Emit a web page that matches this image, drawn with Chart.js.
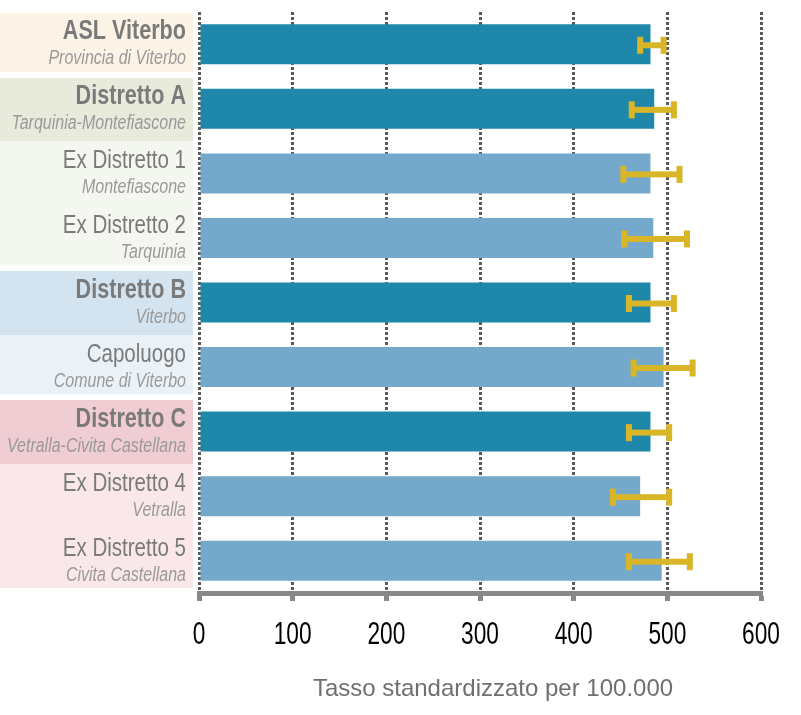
<!DOCTYPE html>
<html>
<head>
<meta charset="utf-8">
<script src="https://cdn.jsdelivr.net/npm/chart.js@4"></script>
<style>
  html, body { margin: 0; padding: 0; background: #fff; }
  #wrap { width: 801px; height: 715px; }
</style>
</head>
<body>
<div id="wrap"><canvas id="chart" width="801" height="715"></canvas></div>
<script>
// rows, top to bottom
const labels = ['ASL Viterbo', 'Distretto A', 'Ex Distretto 1', 'Ex Distretto 2', 'Distretto B',
  'Capoluogo', 'Distretto C', 'Ex Distretto 4', 'Ex Distretto 5'];
const subLabels = ['Provincia di Viterbo', 'Tarquinia-Montefiascone', 'Montefiascone', 'Tarquinia',
  'Viterbo', 'Comune di Viterbo', 'Vetralla-Civita Castellana', 'Vetralla', 'Civita Castellana'];
const groups = ['ASL', 'A', 'A', 'A', 'B', 'B', 'C', 'C', 'C'];
const isHeader = [true, true, false, false, true, false, true, false, false];

const rates = [482, 486, 482, 485, 482, 496, 482, 471, 494];
const lower = [471, 462, 453, 454, 459, 464, 459, 442, 459];
const upper = [496, 507, 513, 521, 507, 527, 502, 502, 524];

const xTicks = [0, 100, 200, 300, 400, 500, 600];
const xTitle = 'Tasso standardizzato per 100.000';

const DARK = '#1f87aa', LIGHT = '#74a9cc', ERR = '#d8b628';
const bands = {
  ASL: ['#fbf3e5', '#fbf3e5'],
  A: ['#e8ebdc', '#f4f6f0'],
  B: ['#d3e3ef', '#ebf2f7'],
  C: ['#f0ccd3', '#f9e7ea']
};
const SANS = '"Liberation Sans", Arial, sans-serif';

// text squeezed horizontally to look like a condensed face
function squeezed(ctx, text, x, y, sx) {
  ctx.save();
  ctx.translate(x, y);
  ctx.scale(sx, 1);
  ctx.fillText(text, 0, 0);
  ctx.restore();
}

// left-hand label panel with coloured bands, plus the x tick labels and title
const labelPanel = {
  id: 'labelPanel',
  beforeDraw(chart) {
    const { ctx } = chart;
    const ys = chart.scales.y;
    const step = ys.getPixelForValue(1) - ys.getPixelForValue(0);
    ctx.save();
    labels.forEach((l, i) => {
      const c = ys.getPixelForValue(i);
      const top = Math.round(c - step / 2 + (isHeader[i] ? 1 : 0));
      let bot = Math.round(c + step / 2);
      const last = i === labels.length - 1 || groups[i + 1] !== groups[i];
      if (last) bot -= 5;
      ctx.fillStyle = bands[groups[i]][isHeader[i] ? 0 : 1];
      ctx.fillRect(0, top, 193, bot - top);
    });
    ctx.restore();
  },
  afterDraw(chart) {
    const { ctx } = chart;
    const ys = chart.scales.y;
    const xs = chart.scales.x;
    ctx.save();
    ctx.textAlign = 'right';
    ctx.textBaseline = 'alphabetic';
    labels.forEach((l, i) => {
      const c = ys.getPixelForValue(i);
      ctx.fillStyle = '#7a7a7a';
      ctx.font = (isHeader[i] ? 'bold 27px ' : '26px ') + SANS;
      squeezed(ctx, l, 186, c - 5, isHeader[i] ? 0.8 : 0.79);
      ctx.fillStyle = '#9a9a9a';
      ctx.font = 'italic 20px ' + SANS;
      squeezed(ctx, subLabels[i], 186, c + 20, 0.8);
    });
    // tick labels
    ctx.textAlign = 'center';
    ctx.textBaseline = 'middle';
    ctx.fillStyle = '#000';
    ctx.font = '32px ' + SANS;
    xTicks.forEach(v => squeezed(ctx, String(v), xs.getPixelForValue(v), 635, 0.71));
    // axis title
    ctx.textBaseline = 'alphabetic';
    ctx.fillStyle = '#6f6f6f';
    ctx.font = '24px ' + SANS;
    ctx.fillText(xTitle, 493, 696);
    ctx.restore();
  }
};

// confidence intervals
const errorBars = {
  id: 'errorBars',
  afterDatasetsDraw(chart) {
    const { ctx } = chart;
    const xs = chart.scales.x, ys = chart.scales.y;
    ctx.save();
    ctx.fillStyle = ERR;
    labels.forEach((l, i) => {
      const y = ys.getPixelForValue(i) + 1;
      const x1 = xs.getPixelForValue(lower[i]);
      const x2 = xs.getPixelForValue(upper[i]);
      ctx.fillRect(x1, y - 3, x2 - x1, 6);
      ctx.fillRect(x1 - 3, y - 8.5, 6, 17);
      ctx.fillRect(x2 - 3, y - 8.5, 6, 17);
    });
    ctx.restore();
  }
};

new Chart(document.getElementById('chart'), {
  type: 'bar',
  data: {
    labels: labels,
    datasets: [{
      data: rates,
      backgroundColor: isHeader.map(h => h ? DARK : LIGHT),
      barPercentage: 0.62,
      categoryPercentage: 1
    }]
  },
  options: {
    indexAxis: 'y',
    responsive: false,
    animation: false,
    layout: { padding: { left: 199, right: 40, top: 12, bottom: 58 } },
    plugins: { legend: { display: false }, tooltip: { enabled: false } },
    scales: {
      y: { display: false },
      x: {
        min: 0,
        max: 600,
        afterBuildTicks: scale => { scale.ticks = xTicks.map(v => ({ value: v })); },
        ticks: {
          color: 'rgba(0,0,0,0)',
          padding: 10,
          font: { family: SANS, size: 30 }
        },
        grid: {
          color: '#5a5a5a',
          lineWidth: 3,
          tickColor: '#888',
          tickWidth: 5,
          tickLength: 8,
          tickBorderDash: []
        },
        border: { color: '#888', width: 5, dash: [3, 2] }
      }
    }
  },
  plugins: [labelPanel, errorBars]
});
</script>
</body>
</html>
